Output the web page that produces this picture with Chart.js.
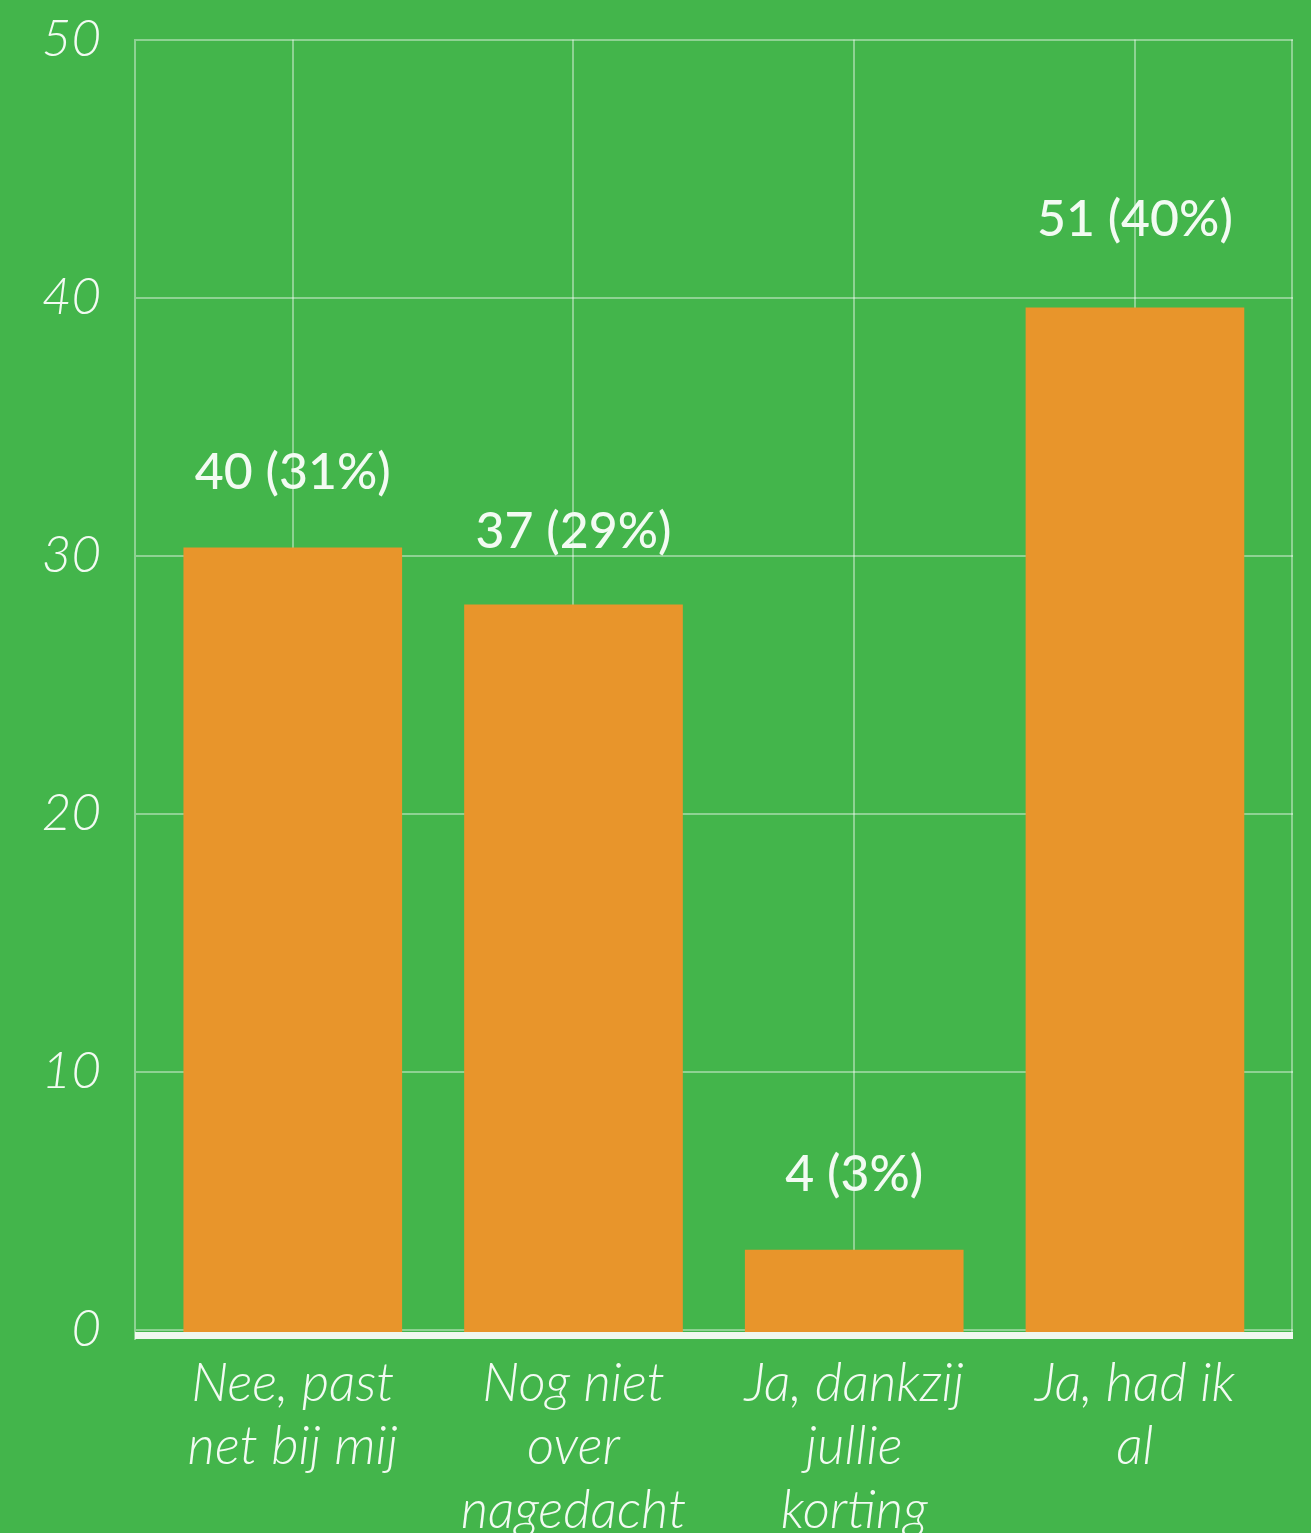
<!DOCTYPE html>
<html>
<head>
<meta charset="utf-8">
<script src="https://cdn.jsdelivr.net/npm/chart.js@4.4.1/dist/chart.umd.min.js"></script>
<style>
  html, body { margin: 0; padding: 0; background: #43b54b; }
  #wrap { width: 1311px; height: 1533px; }
</style>
</head>
<body>
<div id="wrap"><canvas id="c" width="1311" height="1533"></canvas></div>
<script>
const categories = [
  ["Nee, past", "net bij mij"],
  ["Nog niet", "over", "nagedacht"],
  ["Ja, dankzij", "jullie", "korting"],
  ["Ja, had ik", "al"]
];
const values = [30.3, 28.1, 3.1, 39.6];
const valueLabels = ["40 (31%)", "37 (29%)", "4 (3%)", "51 (40%)"];
const yTickValues = [0, 10, 20, 30, 40, 50];

const GREEN = '#43b54b';
const ORANGE = '#e8952b';
const GRID = 'rgba(255,255,255,0.4)';
const TEXT = '#f2fbf2';

const framePlugin = {
  id: 'frame',
  beforeDatasetsDraw(chart) {
    const { ctx, chartArea } = chart;
    ctx.save();
    ctx.strokeStyle = GRID;
    ctx.lineWidth = 2;
    ctx.beginPath();
    ctx.moveTo(chartArea.right - 1, chartArea.top);
    ctx.lineTo(chartArea.right - 1, chartArea.bottom);
    ctx.stroke();
    ctx.restore();
  },
  afterDatasetsDraw(chart) {
    const { ctx, chartArea } = chart;
    ctx.save();
    ctx.fillStyle = '#f0f8f0';
    ctx.fillRect(chartArea.left, chartArea.bottom - 7, chartArea.right - chartArea.left, 7);
    const meta = chart.getDatasetMeta(0);
    const offsets = [59, 57, 59, 72];
    ctx.fillStyle = TEXT;
    ctx.font = '500 50px Lato';
    ctx.textAlign = 'center';
    ctx.textBaseline = 'alphabetic';
    meta.data.forEach((bar, i) => {
      ctx.fillText(valueLabels[i], bar.x, bar.y - offsets[i]);
    });
    ctx.restore();
  }
};

new Chart(document.getElementById('c'), {
  type: 'bar',
  data: {
    datasets: [{
      data: values.map((v, i) => ({ x: i, y: v })),
      backgroundColor: ORANGE,
      borderWidth: 0,
      barThickness: 218,
      base: -0.35
    }]
  },
  options: {
    responsive: false,
    animation: false,
    events: [],
    layout: { padding: { top: 39.5, right: 18, left: 0, bottom: 0 } },
    plugins: { legend: { display: false }, tooltip: { enabled: false } },
    scales: {
      x: {
        type: 'linear',
        offset: false,
        min: -0.562,
        max: 3.563,
        afterFit(scale) { scale.height = 194; },
        afterBuildTicks(scale) { scale.ticks = categories.map((c, i) => ({ value: i })); },
        ticks: {
          includeBounds: false,
          autoSkip: false,
          maxRotation: 0,
          padding: 13,
          color: TEXT,
          font: { family: 'Lato', size: 53, style: 'italic', weight: 300, lineHeight: 1.2 },
          callback: (v) => categories[v]
        },
        grid: { color: GRID, lineWidth: 2, drawTicks: false, offset: false },
        border: { display: false }
      },
      y: {
        min: -0.35,
        max: 50,
        afterFit(scale) { scale.width = 135; scale.paddingTop = 0; scale.paddingBottom = 0; },
        afterBuildTicks(scale) { scale.ticks = yTickValues.map(v => ({ value: v })); },
        ticks: {
          includeBounds: false,
          padding: 34,
          color: TEXT,
          font: { family: 'Lato', size: 51, style: 'italic', weight: 300 }
        },
        grid: { color: GRID, lineWidth: 2, drawTicks: false },
        border: { display: true, color: GRID, width: 2 }
      }
    }
  },
  plugins: [framePlugin]
});
</script>
</body>
</html>
